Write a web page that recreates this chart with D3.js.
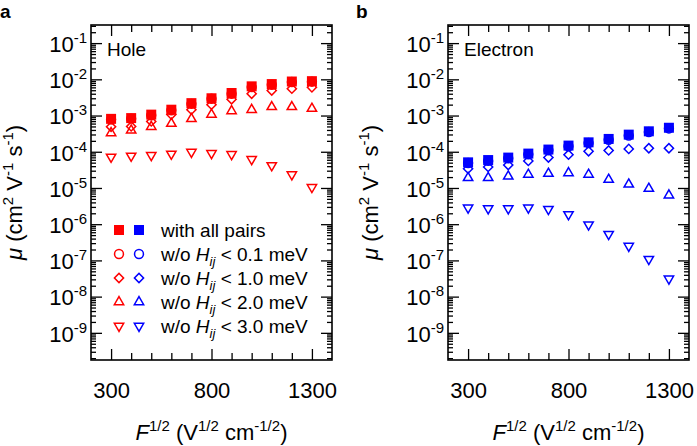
<!DOCTYPE html>
<html>
<head>
<meta charset="utf-8">
<script src="https://cdn.jsdelivr.net/npm/d3@7"></script>
<style>
    body { margin: 0; background: #fff; }
    svg text { font-family: Arial, "Liberation Sans", Helvetica, sans-serif; fill: #000; }
</style>
</head>
<body>
<svg id="chart" width="697" height="446"></svg>
<script>

/*
*       Data
*/

// F^1/2 values of every point, V^1/2 cm^-1/2
var fieldValues = [300, 400, 500, 600, 700, 800, 900, 1000, 1100, 1200, 1300];

// Hole mobility, cm2 V-1 s-1
var holeAll = [8.1e-4, 8.5e-4, 1.06e-3, 1.45e-3, 2.2e-3, 3.0e-3, 4.2e-3, 6.4e-3, 7.4e-3, 8.7e-3, 8.9e-3];
var holeH01 = [7.8e-4, 8.2e-4, 1.02e-3, 1.4e-3, 2.1e-3, 2.9e-3, 4.0e-3, 6.1e-3, 7.1e-3, 8.4e-3, 8.6e-3];
var holeH10 = [4.9e-4, 5.0e-4, 6.9e-4, 1.06e-3, 1.45e-3, 2.0e-3, 2.8e-3, 4.0e-3, 4.9e-3, 5.5e-3, 6.0e-3];
var holeH20 = [3.3e-4, 3.9e-4, 4.9e-4, 6.0e-4, 8.1e-4, 1.07e-3, 1.34e-3, 1.45e-3, 1.73e-3, 1.73e-3, 1.55e-3];
var holeH30 = [7.2e-5, 7.7e-5, 8.0e-5, 8.7e-5, 9.8e-5, 9.1e-5, 8.5e-5, 6.2e-5, 4.2e-5, 2.35e-5, 1.05e-5];

// Electron mobility, cm2 V-1 s-1
var elecAll = [5.1e-5, 5.9e-5, 6.9e-5, 8.9e-5, 1.15e-4, 1.48e-4, 1.82e-4, 2.26e-4, 2.97e-4, 3.67e-4, 4.6e-4];
var elecH01 = [4.9e-5, 5.6e-5, 6.6e-5, 8.5e-5, 1.1e-4, 1.42e-4, 1.75e-4, 2.15e-4, 2.8e-4, 3.5e-4, 4.4e-4];
var elecH10 = [3.4e-5, 3.8e-5, 4.3e-5, 5.6e-5, 6.9e-5, 8.3e-5, 1.03e-4, 1.09e-4, 1.2e-4, 1.25e-4, 1.25e-4];
var elecH20 = [1.9e-5, 1.9e-5, 2.1e-5, 2.35e-5, 2.5e-5, 2.6e-5, 2.35e-5, 1.7e-5, 1.26e-5, 9.6e-6, 6.3e-6];
var elecH30 = [2.85e-6, 2.7e-6, 2.7e-6, 2.85e-6, 2.6e-6, 1.87e-6, 9.7e-7, 5.3e-7, 2.5e-7, 1.08e-7, 3.1e-8];

// Legend entries (cut-off in meV, null = all pairs kept)
var legendCutoffs = [null, '0.1', '1.0', '2.0', '3.0'];
var legendShapes = ['square', 'circle', 'diamond', 'triangle', 'triangleDown'];

// Tick values and labels
var xTickValues = [300, 400, 500, 600, 700, 800, 900, 1000, 1100, 1200, 1300];
var xTickLabels = [300, 800, 1300];
var yDecades = [-9, -8, -7, -6, -5, -4, -3, -2, -1];

/*
*       Setup
*/

var svg = d3.select('#chart');

var plotTop = 25, plotBottom = 360, plotWidth = 241;

var panels = [
    { letter: 'a', name: 'Hole', color: '#ff0000', left: 91, letterX: 0, titleX: 22,
      series: [holeAll, holeH01, holeH10, holeH20, holeH30] },
    { letter: 'b', name: 'Electron', color: '#0000ff', left: 448, letterX: 356, titleX: 378,
      series: [elecAll, elecH01, elecH10, elecH20, elecH30] }
];

// Return the path for a marker shape
function markerPath(shape){
    if (shape == 'square') return d3.symbol(d3.symbolSquare, 100)();
    if (shape == 'circle') return d3.symbol(d3.symbolCircle, 62)();
    if (shape == 'diamond') return d3.symbol(d3.symbolSquare, 42)();
    return d3.symbol(d3.symbolTriangle, 38)();
}
function markerRotate(shape){
    if (shape == 'diamond') return ' rotate(45)';
    if (shape == 'triangleDown') return ' rotate(180)';
    return '';
}

function drawMarker(sel, shape, color){
    sel.attr('d', markerPath(shape))
        .attr('fill', shape == 'square' ? color : 'none')
        .attr('stroke', shape == 'square' ? 'none' : color)
        .attr('stroke-width', 1.5);
}

// Minor ticks for the log axis: 2..9 x 10^k inside the domain
function logMinorTicks(domain){
    var out = [];
    for (var k = -10; k <= 0; k++){
        for (var m = 2; m <= 9; m++){
            var v = m * Math.pow(10, k);
            if (v >= domain[0] && v <= domain[1]) out.push(v);
        }
    }
    return out;
}

function drawPanel(panel){

    var x = d3.scaleLinear().domain([200, 1400]).range([panel.left, panel.left + plotWidth]);
    var y = d3.scaleLog().domain([Math.pow(10, -9.75), Math.pow(10, -0.5)]).range([plotBottom, plotTop]);
    var right = panel.left + plotWidth;
    var g = svg.append('g');

    var majorY = yDecades.map(function(k){ return Math.pow(10, k); });
    var minorY = logMinorTicks(y.domain());

    // X axes (bottom labelled, top mirrored), ticks point inward
    var xBottom = d3.axisBottom(x).tickValues(xTickValues).tickSizeInner(-7).tickSizeOuter(0).tickPadding(22)
        .tickFormat(function(d){ return xTickLabels.indexOf(d) >= 0 ? d : ''; });
    var gxb = g.append('g').attr('transform', 'translate(0,' + plotBottom + ')').call(xBottom);
    var gxt = g.append('g').attr('transform', 'translate(0,' + plotTop + ')')
        .call(d3.axisTop(x).tickValues(xTickValues).tickSizeInner(-7).tickSizeOuter(0).tickFormat(''));
    [gxb, gxt].forEach(function(ax){
        ax.selectAll('.tick line')
            .filter(function(d){ return xTickLabels.indexOf(d) >= 0; })
            .attr('y2', ax === gxb ? -11 : 11);
    });
    gxb.selectAll('text').attr('font-size', 22).attr('font-family', null);

    // Y axes: minor ticks then labelled decades
    g.append('g').attr('transform', 'translate(' + panel.left + ',0)')
        .call(d3.axisLeft(y).tickValues(minorY).tickSizeInner(-5).tickSizeOuter(0).tickFormat(''));
    g.append('g').attr('transform', 'translate(' + right + ',0)')
        .call(d3.axisRight(y).tickValues(minorY).tickSizeInner(-5).tickSizeOuter(0).tickFormat(''));
    var gyl = g.append('g').attr('transform', 'translate(' + panel.left + ',0)')
        .call(d3.axisLeft(y).tickValues(majorY).tickSizeInner(-11).tickSizeOuter(0).tickPadding(4).tickFormat(''));
    g.append('g').attr('transform', 'translate(' + right + ',0)')
        .call(d3.axisRight(y).tickValues(majorY).tickSizeInner(-11).tickSizeOuter(0).tickFormat(''));

    // Decade labels as 10 with a superscript exponent
    gyl.selectAll('.tick text').each(function(d){
        var t = d3.select(this).attr('font-family', null).attr('font-size', 22).attr('dy', '0.38em');
        t.append('tspan').text('10');
        t.append('tspan').attr('font-size', 15).attr('dy', '-0.6em').text(Math.round(Math.log10(d)));
    });

    g.selectAll('.domain').remove();
    g.selectAll('.tick line').attr('stroke', '#000').attr('stroke-width', 1.3);

    // Frame
    g.append('rect')
        .attr('x', panel.left).attr('y', plotTop)
        .attr('width', plotWidth).attr('height', plotBottom - plotTop)
        .attr('fill', 'none').attr('stroke', '#000').attr('stroke-width', 1.6);

    // Markers, squares drawn last so they sit on top
    var order = [4, 3, 2, 1, 0];
    order.forEach(function(s){
        var shape = legendShapes[s];
        g.append('g').selectAll('path')
            .data(panel.series[s])
            .enter().append('path')
            .attr('transform', function(d, i){
                return 'translate(' + x(fieldValues[i]) + ',' + y(d) + ')' + markerRotate(shape);
            })
            .call(drawMarker, shape, panel.color);
    });

    // Panel name inside the frame
    g.append('text').attr('x', panel.left + 16).attr('y', 56).attr('font-size', 19).text(panel.name);

    // Panel letter
    g.append('text').attr('x', panel.letterX).attr('y', 18)
        .attr('font-size', 19).attr('font-weight', 'bold').text(panel.letter);

    // X title
    var xt = g.append('text').attr('x', panel.left + plotWidth / 2).attr('y', 440)
        .attr('text-anchor', 'middle').attr('font-size', 22);
    xt.append('tspan').attr('font-style', 'italic').text('F');
    xt.append('tspan').attr('font-size', 15).attr('dy', -9).text('1/2');
    xt.append('tspan').attr('dy', 9).text(' (V');
    xt.append('tspan').attr('font-size', 15).attr('dy', -9).text('1/2');
    xt.append('tspan').attr('dy', 9).text(' cm');
    xt.append('tspan').attr('font-size', 15).attr('dy', -9).text('-1/2');
    xt.append('tspan').attr('dy', 9).text(')');

    // Y title
    var yt = g.append('text')
        .attr('transform', 'rotate(-90)')
        .attr('x', -(plotTop + plotBottom) / 2).attr('y', panel.titleX)
        .attr('text-anchor', 'middle').attr('font-size', 22);
    yt.append('tspan').attr('font-style', 'italic').text('\u03bc');
    yt.append('tspan').text(' (cm');
    yt.append('tspan').attr('font-size', 15).attr('dy', -9).text('2');
    yt.append('tspan').attr('dy', 9).text(' V');
    yt.append('tspan').attr('font-size', 15).attr('dy', -9).text('-1');
    yt.append('tspan').attr('dy', 9).text(' s');
    yt.append('tspan').attr('font-size', 15).attr('dy', -9).text('-1');
    yt.append('tspan').attr('dy', 9).text(')');
}

panels.forEach(drawPanel);

/*
*       Legend (left panel, red and blue markers side by side)
*/

var legend = svg.append('g');
legendCutoffs.forEach(function(cut, i){
    var rowY = 230 + i * 24;
    var shape = legendShapes[i];
    panels.forEach(function(p, j){
        legend.append('path')
            .attr('transform', 'translate(' + (119 + j * 20) + ',' + rowY + ')' + markerRotate(shape))
            .call(drawMarker, shape, p.color);
    });
    var t = legend.append('text').attr('x', 161).attr('y', rowY + 7).attr('font-size', 19);
    if (cut === null){
        t.text('with all pairs');
    } else {
        t.append('tspan').text('w/o ');
        t.append('tspan').attr('font-style', 'italic').text('H');
        t.append('tspan').attr('font-style', 'italic').attr('font-size', 13).attr('dy', 5).text('ij');
        t.append('tspan').attr('dy', -5).text(' < ' + cut + ' meV');
    }
});

</script>
</body>
</html>
